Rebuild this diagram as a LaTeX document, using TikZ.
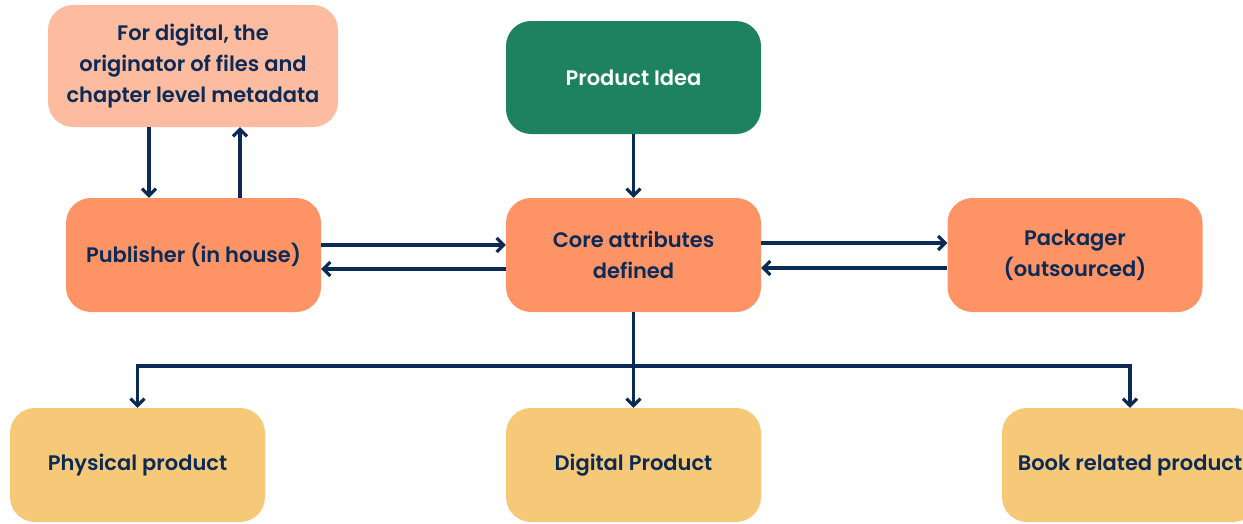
\documentclass[tikz,border=0pt]{standalone}
\usepackage{fontspec}
\setmainfont{Poppins}[BoldFont={Poppins SemiBold}]
\usetikzlibrary{arrows.meta}
\definecolor{navy}{HTML}{0B2A55}
\definecolor{peach}{HTML}{FDBBA0}
\definecolor{coral}{HTML}{FE9466}
\definecolor{pine}{HTML}{1E8260}
\definecolor{sand}{HTML}{F6C978}
\begin{document}
\begin{tikzpicture}[x=1pt,y=-1pt,
  card/.style={rounded corners=25pt, minimum width=255pt, minimum height=114pt,
    inner sep=0pt, align=center, text=navy, font=\fontsize{21}{31}\selectfont\bfseries},
  link/.style={draw=navy, line width=3.2pt, -{Straight Barb[length=7pt,width=14pt,line width=3.2pt]}}]
\useasboundingbox (0,0) rectangle (1243,523);
\clip (0,0) rectangle (1243,523);

% upper row
\node[card, fill=peach, minimum width=290pt, minimum height=122pt] (orig) at (193,66)
  {For digital, the\\originator of files and\\chapter level metadata};
\node[card, fill=pine, text=white, minimum height=113pt] (idea) at (633.5,77.5) {Product Idea};

% middle row
\node[card, fill=coral] (pub) at (193.5,255) {Publisher (in house)};
\node[card, fill=coral] (core) at (633.5,255) {Core attributes\\defined};
\node[card, fill=coral] (pack) at (1075,255) {Packager\\(outsourced)};

% product row
\node[card, fill=sand] (phys) at (137.5,465) {Physical product};
\node[card, fill=sand] (digi) at (633.5,465) {Digital Product};
\node[card, fill=sand, minimum width=256pt] (book) at (1130,465) {Book related product};

% publisher and file originator
\draw[link] (orig.south -| 149,0) -- (pub.north -| 149,0);
\draw[link] (pub.north -| 240,0) -- (orig.south -| 240,0);

% idea feeds the core attributes
\draw[link] (idea) -- (core);

% exchanges with the core
\draw[link] (pub.east |- 0,245) -- (core.west |- 0,245);
\draw[link] (core.west |- 0,269) -- (pub.east |- 0,269);
\draw[link] (core.east |- 0,243) -- (pack.west |- 0,243);
\draw[link] (pack.west |- 0,268) -- (core.east |- 0,268);

% distribution to products
\coordinate (split) at (633.5,366);
\draw[draw=navy, line width=3.2pt] (core.south) -- (split);
\draw[link] (split) -| (phys.north);
\draw[link] (split) -- (digi.north);
\draw[link] (split) -| (book.north);
\end{tikzpicture}
\end{document}
